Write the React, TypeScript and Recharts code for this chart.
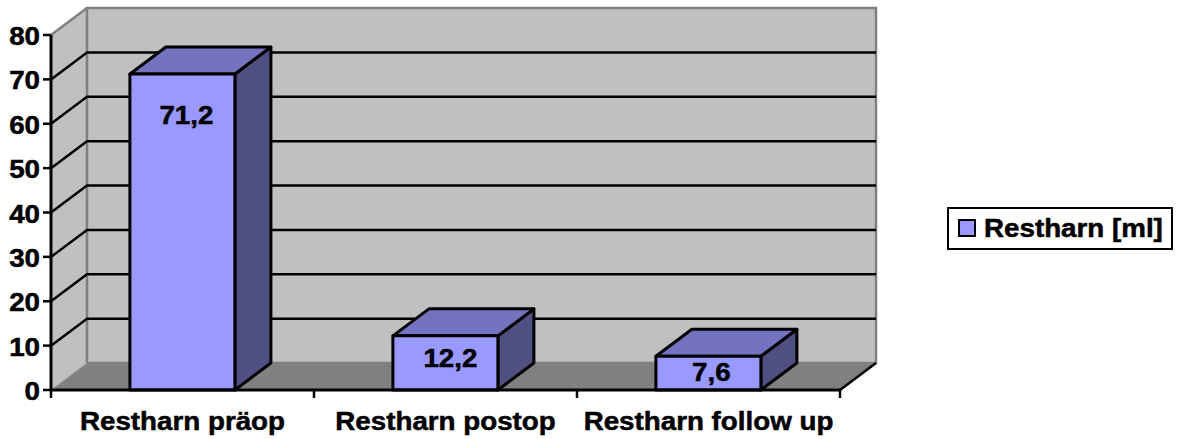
import { Bar, BarChart, CartesianGrid, LabelList, Legend, XAxis, YAxis, usePlotArea } from "recharts";

const categories = ["Restharn präop", "Restharn postop", "Restharn follow up"];
const residualVolume = [71.2, 12.2, 7.6];
const valueLabels = ["71,2", "12,2", "7,6"];
const yTicks = [0, 10, 20, 30, 40, 50, 60, 70, 80];
const seriesName = "Restharn [ml]";

const chartData = categories.map((name, i) => ({ name, value: residualVolume[i], label: valueLabels[i] }));

// depth of the fake 3D projection
const DX = 36;
const DY = -27;
const FONT = "'Liberation Sans', Arial, sans-serif";
const FONT_SIZE = 25;
const STRETCH = 1.11; // reference text is wider than it is tall
const FRONT = "#9999ff";
const TOP = "#7373bf";
const SIDE = "#4f4f81";
// distance of each value label below the bar top, and its shift from the centre
const LABEL_DROP = [50, 31, 25];
const LABEL_SHIFT = [4, 5, 3];

function StretchedText({ x, y, anchor, children }: any) {
  return (
    <text
      transform={`translate(${x},${y}) scale(${STRETCH},1)`}
      textAnchor={anchor}
      fontFamily={FONT}
      fontSize={FONT_SIZE}
      fontWeight="bold"
      fill="#000"
      stroke="#000"
      strokeWidth={0.5}
    >
      {children}
    </text>
  );
}

/** Back wall, left wall and floor behind the grid */
function Walls() {
  const plot = usePlotArea();
  if (!plot) return null;
  const { x, y, width, height } = plot;
  const r = x + width;
  const b = y + height;
  return (
    <g>
      <polygon points={`${x},${y} ${x + DX},${y + DY} ${x + DX},${b + DY} ${x},${b}`} fill="#c0c0c0" />
      <rect x={x + DX} y={y + DY} width={width} height={height} fill="#c0c0c0" stroke="#808080" strokeWidth={2.5} />
      <polygon points={`${x},${b} ${x + DX},${b + DY} ${r + DX},${b + DY} ${r},${b}`} fill="#808080" />
      <line x1={x} y1={y} x2={x + DX} y2={y + DY} stroke="#808080" strokeWidth={2.5} />
      <line x1={x} y1={b} x2={x + DX} y2={b + DY} stroke="#a0a0a0" strokeWidth={1} />
      <line x1={r} y1={b} x2={r + DX} y2={b + DY} stroke="#000" strokeWidth={2.5} />
    </g>
  );
}

function GridLine({ x1, x2, y1, index }: any) {
  if (index === 0 || index === yTicks.length - 1) return <g key={index} />;
  return (
    <polyline
      key={index}
      points={`${x1},${y1} ${x1 + DX},${y1 + DY} ${x2 + DX},${y1 + DY}`}
      fill="none"
      stroke="#000"
      strokeWidth={2.5}
    />
  );
}

function Box3D({ x, y, width, height }: any) {
  const r = x + width;
  const b = y + height;
  return (
    <g stroke="#000" strokeWidth={3} strokeLinejoin="round">
      <polygon points={`${r},${y} ${r + DX},${y + DY} ${r + DX},${b + DY} ${r},${b}`} fill={SIDE} />
      <polygon points={`${x},${y} ${x + DX},${y + DY} ${r + DX},${y + DY} ${r},${y}`} fill={TOP} />
      <rect x={x} y={y} width={width} height={height} fill={FRONT} />
    </g>
  );
}

function ValueLabel({ x, y, width, index, value }: any) {
  return (
    <StretchedText x={x + width / 2 + LABEL_SHIFT[index]} y={y + LABEL_DROP[index]} anchor="middle">
      {value}
    </StretchedText>
  );
}

function YTick({ x, y, payload }: any) {
  return (
    <StretchedText x={x - 1} y={y + 10} anchor="end">
      {payload.value}
    </StretchedText>
  );
}

function XTick({ x, y, payload, index, width }: any) {
  const band = width / categories.length;
  const left = x - band / 2;
  return (
    <g>
      <line x1={left} y1={y - 8} x2={left} y2={y} stroke="#000" strokeWidth={2.5} />
      {index === categories.length - 1 && (
        <line x1={left + band} y1={y - 8} x2={left + band} y2={y} stroke="#000" strokeWidth={2.5} />
      )}
      <StretchedText x={x} y={y + 32} anchor="middle">
        {payload.value}
      </StretchedText>
    </g>
  );
}

function LegendBox() {
  return (
    <div
      style={{
        boxSizing: "border-box",
        width: 226,
        height: 43,
        border: "2.5px solid #000",
        background: "#fff",
        position: "relative",
      }}
    >
      <div
        style={{
          position: "absolute",
          left: 9,
          top: 10,
          width: 14,
          height: 14,
          background: FRONT,
          border: "2px solid #000",
        }}
      />
      <span
        style={{
          position: "absolute",
          left: 35,
          top: 4,
          fontFamily: FONT,
          fontSize: FONT_SIZE,
          fontWeight: "bold",
          lineHeight: "30px",
          whiteSpace: "nowrap",
          transform: `scaleX(${STRETCH})`,
          transformOrigin: "left center",
          WebkitTextStroke: "0.5px #000",
        }}
      >
        {seriesName}
      </span>
    </div>
  );
}

export default function App() {
  return (
    <div style={{ position: "absolute", left: 0, top: 0, width: 1181, height: 439, background: "#fff" }}>
      <BarChart
        width={1181}
        height={439}
        data={chartData}
        barCategoryGap="30%"
        margin={{ top: 35, right: 115, bottom: 0, left: 0 }}
      >
        <Walls />
        <CartesianGrid horizontal={GridLine} vertical={false} zIndex={1} />
        <XAxis
          dataKey="name"
          height={49}
          interval={0}
          tick={XTick}
          tickLine={false}
          axisLine={{ stroke: "#000", strokeWidth: 3 }}
        />
        <YAxis
          width={51}
          domain={[0, 80]}
          ticks={yTicks}
          interval={0}
          tick={YTick}
          tickSize={8}
          tickLine={{ stroke: "#000", strokeWidth: 2.5 }}
          axisLine={{ stroke: "#000", strokeWidth: 3 }}
        />
        <Legend
          layout="vertical"
          align="right"
          verticalAlign="top"
          content={LegendBox}
          wrapperStyle={{ left: 947, top: 207, right: "auto", width: 226 }}
        />
        <Bar dataKey="value" name={seriesName} shape={Box3D} isAnimationActive={false}>
          <LabelList dataKey="label" content={ValueLabel} />
        </Bar>
      </BarChart>
    </div>
  );
}
